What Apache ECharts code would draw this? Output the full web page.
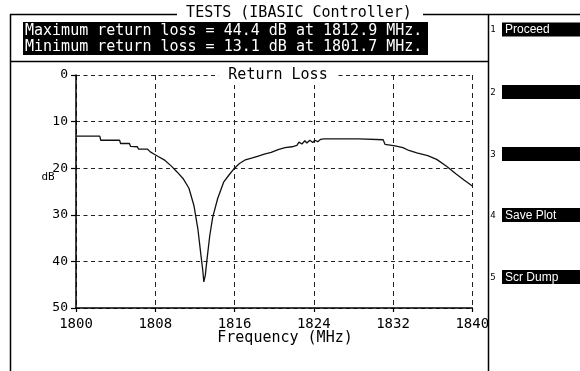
<!DOCTYPE html>
<html>
<head>
<meta charset="utf-8">
<script src="https://cdn.jsdelivr.net/npm/echarts@6/dist/echarts.min.js"></script>
<style>
  html, body { margin: 0; padding: 0; background: #fff; }
  #chart { width: 580px; height: 371px; }
</style>
</head>
<body>
<div id="chart"></div>
<script>
// Swept return loss measurement (frequency in MHz, return loss in dB)
const freqMHz = [
  1800.0, 1801.7, 1802.4, 1802.5, 1804.4, 1804.5, 1805.4, 1805.5, 1806.2, 1806.3,
  1807.2, 1807.5, 1807.9, 1808.3, 1808.9, 1809.6, 1810.2, 1810.8, 1811.4, 1811.9,
  1812.3, 1812.6, 1812.8, 1812.9, 1813.05, 1813.2, 1813.5, 1813.8, 1814.3, 1814.9,
  1815.5, 1816.0, 1816.5, 1817.1, 1817.8, 1818.4, 1819.0, 1819.7, 1820.4, 1821.1,
  1821.8, 1822.3, 1822.5, 1822.8, 1823.1, 1823.3, 1823.6, 1823.9, 1824.1, 1824.4,
  1824.7, 1825.0, 1828.6, 1828.8, 1831.0, 1831.2, 1832.2, 1833.0, 1833.6, 1834.4,
  1835.5, 1836.4, 1837.4, 1838.4, 1839.2, 1840.0
];
const returnLossDb = [
  13.1, 13.1, 13.1, 14.0, 14.0, 14.7, 14.7, 15.3, 15.4, 15.9,
  15.9, 16.5, 17.0, 17.5, 18.2, 19.5, 20.8, 22.2, 24.3, 28.0,
  33.0, 38.5, 42.0, 44.4, 43.0, 40.0, 34.5, 30.5, 26.5, 23.0,
  21.3, 20.0, 19.0, 18.2, 17.8, 17.4, 17.0, 16.6, 16.0, 15.6,
  15.4, 15.1, 14.4, 14.8, 14.1, 14.6, 14.0, 14.5, 14.0, 14.3,
  13.8, 13.7, 13.7, 13.9, 13.9, 14.9, 15.2, 15.6, 16.2, 16.7,
  17.3, 18.1, 19.6, 21.3, 22.6, 23.8
];

// Axis tick values
const freqTicks = [1800, 1808, 1816, 1824, 1832, 1840];
const dbTicks = [0, 10, 20, 30, 40, 50];

// Screen texts
const screenTitle = 'TESTS (IBASIC Controller)';
const summaryLines = [
  'Maximum return loss = 44.4 dB at 1812.9 MHz.',
  'Minimum return loss = 13.1 dB at 1801.7 MHz.'
];
const softkeys = ['Proceed', '', '', 'Save Plot', 'Scr Dump'];

const MONO = '"DejaVu Sans Mono", "Liberation Mono", monospace';
const INK = '#000';

function hline(x1, x2, y, w) {
  return { type: 'line', shape: { x1, y1: y, x2, y2: y }, style: { stroke: INK, lineWidth: w || 1.5 }, silent: true };
}
function vline(x, y1, y2, w) {
  return { type: 'line', shape: { x1: x, y1, x2: x, y2 }, style: { stroke: INK, lineWidth: w || 1.5 }, silent: true };
}

const graphics = [
  // screen frame
  hline(10, 177, 14.5),
  hline(423, 580, 14.5),
  vline(10.5, 14, 371),
  vline(488.5, 14, 371),
  hline(10, 488, 61.5),
  {
    type: 'text', silent: true,
    style: { text: screenTitle, x: 299, y: 13.5, fill: INK, fontSize: 15, fontFamily: MONO, align: 'center', verticalAlign: 'middle' }
  },
  // summary box
  { type: 'rect', shape: { x: 23, y: 22, width: 405, height: 33 }, style: { fill: INK }, silent: true }
];

summaryLines.forEach((t, i) => {
  graphics.push({
    type: 'text', silent: true,
    style: { text: t, x: 25, y: 31 + i * 16, fill: '#fff', fontSize: 15, fontFamily: MONO, align: 'left', verticalAlign: 'middle' }
  });
});

// softkey column
const keyTops = [22.5, 85, 147, 208, 270];
softkeys.forEach((label, i) => {
  const top = keyTops[i];
  graphics.push({
    type: 'text', silent: true,
    style: { text: String(i + 1), x: 493, y: top + 7.5, fill: INK, fontSize: 9, fontFamily: MONO, align: 'center', verticalAlign: 'middle' }
  });
  graphics.push({ type: 'rect', shape: { x: 502, y: top, width: 78, height: 14 }, style: { fill: INK }, silent: true });
  if (label) {
    graphics.push({
      type: 'text', silent: true,
      style: { text: label, x: 505, y: top + 7.5, fill: '#fff', fontSize: 12, fontFamily: '"Liberation Sans", Arial, sans-serif', align: 'left', verticalAlign: 'middle' }
    });
  }
});

// plot labels
graphics.push({
  type: 'text', silent: true, z: 100,
  style: { text: 'Return Loss', x: 278, y: 75.5, fill: INK, fontSize: 15, fontFamily: MONO, align: 'center', verticalAlign: 'middle',
           backgroundColor: '#fff', padding: [2, 10, 2, 10] }
});
graphics.push({
  type: 'text', silent: true,
  style: { text: 'Frequency (MHz)', x: 285, y: 338.5, fill: INK, fontSize: 15, fontFamily: MONO, align: 'center', verticalAlign: 'middle' }
});
graphics.push({
  type: 'text', silent: true,
  style: { text: 'dB', x: 48, y: 177, fill: INK, fontSize: 11, fontFamily: MONO, align: 'center', verticalAlign: 'middle' }
});

const chart = echarts.init(document.getElementById('chart'), null, { renderer: 'canvas' });
chart.setOption({
  animation: false,
  backgroundColor: '#fff',
  grid: { left: 76, right: 107.7, top: 75, bottom: 63, containLabel: false },
  xAxis: {
    type: 'value',
    min: freqTicks[0],
    max: freqTicks[freqTicks.length - 1],
    interval: freqTicks[1] - freqTicks[0],
    axisLine: { onZero: false, lineStyle: { color: INK, width: 1.5 } },
    axisTick: { show: true, length: 4, lineStyle: { color: INK, width: 1.2 } },
    axisLabel: { color: INK, fontSize: 14, fontFamily: MONO, margin: 9, formatter: (v) => String(v) },
    splitLine: { show: true, lineStyle: { color: '#222', width: 1, type: [5, 4] } }
  },
  yAxis: {
    type: 'value',
    inverse: true,
    min: dbTicks[0],
    max: dbTicks[dbTicks.length - 1],
    interval: dbTicks[1] - dbTicks[0],
    axisLine: { show: true, onZero: false, lineStyle: { color: INK, width: 1.5 } },
    axisTick: { show: true, length: 5, lineStyle: { color: INK, width: 1.2 } },
    axisLabel: { color: INK, fontSize: 13, fontFamily: MONO, margin: 8, formatter: (v) => String(v) },
    splitLine: { show: true, lineStyle: { color: '#222', width: 1, type: [4, 3.5] } }
  },
  series: [{
    type: 'line',
    data: freqMHz.map((f, i) => [f, returnLossDb[i]]),
    symbol: 'none',
    lineStyle: { color: '#111', width: 1.3 },
    z: 5
  }],
  graphic: graphics
});
</script>
</body>
</html>
